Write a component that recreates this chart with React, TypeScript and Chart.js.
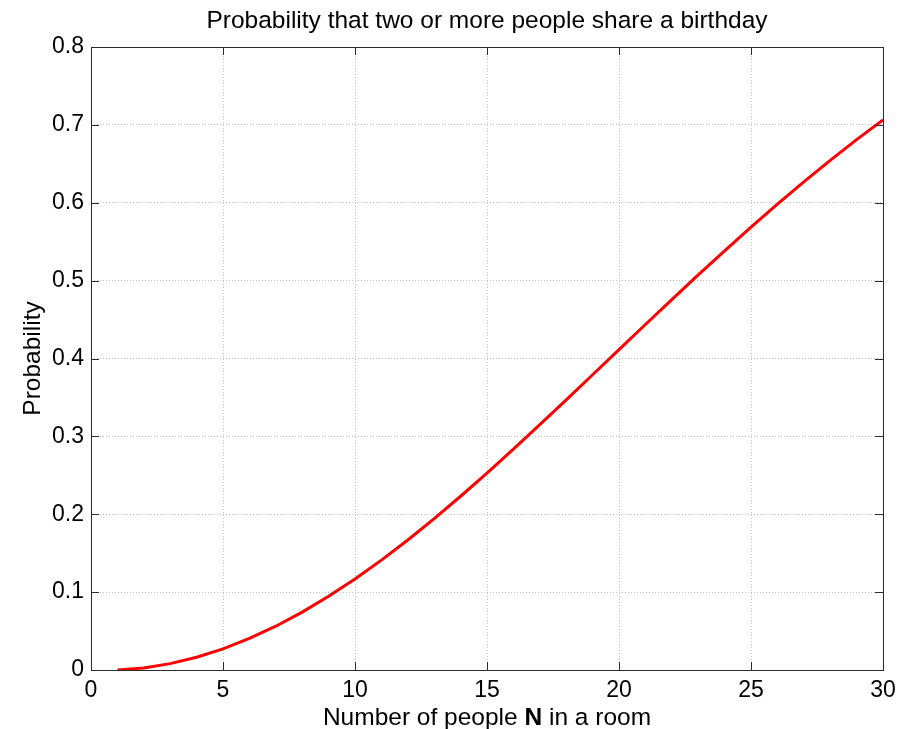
import React, { useEffect, useRef } from "react";
import { Chart, registerables } from "chart.js";

Chart.register(...registerables);

const peopleN = [1, 2, 3, 4, 5, 6, 7, 8, 9, 10, 11, 12, 13, 14, 15, 16, 17, 18, 19, 20, 21, 22, 23, 24, 25, 26, 27, 28, 29, 30];
const probability = [
  0, 0.0027, 0.0082, 0.0164, 0.0271, 0.0405, 0.0562, 0.0743, 0.0946, 0.1169,
  0.1411, 0.167, 0.1944, 0.2231, 0.2529, 0.2836, 0.315, 0.3469, 0.3791, 0.4114,
  0.4437, 0.4757, 0.5073, 0.5383, 0.5687, 0.5982, 0.6269, 0.6545, 0.681, 0.7063,
];
const titleText = "Probability that two or more people share a birthday";
const xLabelParts = [
  { text: "Number of people ", bold: false },
  { text: "N", bold: true },
  { text: " in a room", bold: false },
];
const yLabelText = "Probability";

const FONT = "'Liberation Sans', Arial, Helvetica, sans-serif";

const framePlugin = {
  id: "matlabFrame",
  afterDraw(chart: any) {
    const { ctx, chartArea, scales } = chart;
    const { left, right, top, bottom } = chartArea;
    ctx.save();
    ctx.strokeStyle = "#2b2b2b";
    ctx.lineWidth = 1;
    ctx.strokeRect(Math.round(left) + 0.5, Math.round(top) + 0.5, Math.round(right - left), Math.round(bottom - top));
    const tl = 8;
    ctx.beginPath();
    scales.x.ticks.forEach((t: any) => {
      const px = Math.round(scales.x.getPixelForValue(t.value)) + 0.5;
      ctx.moveTo(px, bottom);
      ctx.lineTo(px, bottom - tl);
      ctx.moveTo(px, top);
      ctx.lineTo(px, top + tl);
    });
    scales.y.ticks.forEach((t: any) => {
      const py = Math.round(scales.y.getPixelForValue(t.value)) + 0.5;
      ctx.moveTo(left, py);
      ctx.lineTo(left + tl, py);
      ctx.moveTo(right, py);
      ctx.lineTo(right - tl, py);
    });
    ctx.stroke();

    ctx.fillStyle = "#000";
    ctx.font = `24.5px ${FONT}`;
    ctx.textAlign = "center";
    ctx.textBaseline = "alphabetic";
    const cx = (left + right) / 2;
    ctx.fillText(titleText, cx, 28);

    const widths = xLabelParts.map((p) => {
      ctx.font = `${p.bold ? "bold " : ""}24.5px ${FONT}`;
      return ctx.measureText(p.text).width;
    });
    const total = widths.reduce((a, b) => a + b, 0);
    let x = cx - total / 2;
    ctx.textAlign = "left";
    xLabelParts.forEach((p, i) => {
      ctx.font = `${p.bold ? "bold " : ""}24.5px ${FONT}`;
      ctx.fillText(p.text, x, 725);
      x += widths[i];
    });

    ctx.translate(40, (top + bottom) / 2);
    ctx.rotate(-Math.PI / 2);
    ctx.font = `24.5px ${FONT}`;
    ctx.textAlign = "center";
    ctx.fillText(yLabelText, 0, 0);
    ctx.restore();
  },
};

export default function App() {
  const ref = useRef<HTMLCanvasElement>(null);
  useEffect(() => {
    if (!ref.current) return;
    const chart = new Chart(ref.current, {
      type: "line",
      data: {
        datasets: [
          {
            data: peopleN.map((n, i) => ({ x: n, y: probability[i] })),
            borderColor: "#ff0000",
            borderWidth: 3,
            pointRadius: 0,
            tension: 0,
            fill: false,
          },
        ],
      },
      options: {
        animation: false,
        responsive: false,
        devicePixelRatio: 1,
        layout: { padding: { top: 47, right: 30, left: 0, bottom: 0 } },
        plugins: { legend: { display: false }, tooltip: { enabled: false }, title: { display: false } },
        scales: {
          x: {
            type: "linear",
            min: 0,
            max: 30,
            ticks: {
              stepSize: 5,
              padding: 7,
              color: "#000",
              font: { family: FONT, size: 23 },
              maxRotation: 0,
            },
            grid: { color: "#c4c4c4", drawTicks: false, lineWidth: 1 },
            border: { display: false, dash: [1, 2] },
            afterFit: (s: any) => {
              s.height = 59;
            },
          },
          y: {
            type: "linear",
            min: 0,
            max: 0.8,
            ticks: {
              stepSize: 0.1,
              padding: 7,
              color: "#000",
              font: { family: FONT, size: 23 },
              callback: (v: any) => String(Number(Number(v).toFixed(1))),
            },
            grid: { color: "#c4c4c4", drawTicks: false, lineWidth: 1 },
            border: { display: false, dash: [1, 2] },
            afterFit: (s: any) => {
              s.width = 91;
            },
          },
        },
      },
      plugins: [framePlugin],
    });
    return () => chart.destroy();
  }, []);
  return (
    <div style={{ position: "absolute", left: 0, top: 0, width: 913, height: 729, background: "#fff" }}>
      <canvas ref={ref} width={913} height={729} style={{ width: 913, height: 729 }} />
    </div>
  );
}
